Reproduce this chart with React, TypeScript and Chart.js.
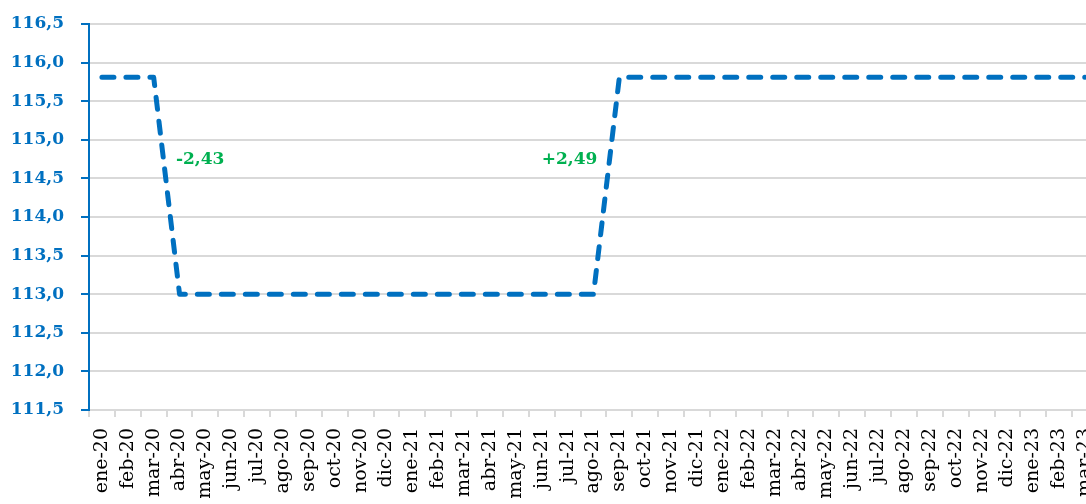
import React, { useEffect, useRef } from "react";
import { Chart, registerables } from "chart.js";

Chart.register(...registerables);

const categories = [
  "ene-20", "feb-20", "mar-20", "abr-20", "may-20", "jun-20", "jul-20", "ago-20", "sep-20", "oct-20", "nov-20", "dic-20",
  "ene-21", "feb-21", "mar-21", "abr-21", "may-21", "jun-21", "jul-21", "ago-21", "sep-21", "oct-21", "nov-21", "dic-21",
  "ene-22", "feb-22", "mar-22", "abr-22", "may-22", "jun-22", "jul-22", "ago-22", "sep-22", "oct-22", "nov-22", "dic-22",
  "ene-23", "feb-23", "mar-23",
];

const values = [
  115.81, 115.81, 115.81, 113.0, 113.0, 113.0, 113.0, 113.0, 113.0, 113.0, 113.0, 113.0,
  113.0, 113.0, 113.0, 113.0, 113.0, 113.0, 113.0, 113.0, 115.81, 115.81, 115.81, 115.81,
  115.81, 115.81, 115.81, 115.81, 115.81, 115.81, 115.81, 115.81, 115.81, 115.81, 115.81, 115.81,
  115.81, 115.81, 115.81,
];

const yMin = 111.5;
const yMax = 116.5;
const yStep = 0.5;

const annotationTexts = ["-2,43", "+2,49"];
const annotationX = [2.86, 19.15];
const annotationY = [114.75, 114.75];
const annotationAlign: CanvasTextAlign[] = ["left", "right"];

const BLUE = "#0070C0";
const GREEN = "#00B050";
const GRID = "#D9D9D9";

const annotationPlugin = {
  id: "changeLabels",
  afterDatasetsDraw(chart: any) {
    const { ctx, scales } = chart;
    ctx.save();
    ctx.font = "bold 17px 'DejaVu Serif'";
    ctx.fillStyle = GREEN;
    ctx.textBaseline = "middle";
    annotationTexts.forEach((t, i) => {
      ctx.textAlign = annotationAlign[i];
      ctx.fillText(t, scales.x.getPixelForValue(annotationX[i]), scales.y.getPixelForValue(annotationY[i]));
    });
    ctx.restore();
  },
};

export default function App() {
  const canvasRef = useRef<HTMLCanvasElement | null>(null);

  useEffect(() => {
    if (!canvasRef.current) return;
    const chart = new Chart(canvasRef.current, {
      type: "line",
      data: {
        labels: categories,
        datasets: [
          {
            data: values,
            borderColor: BLUE,
            borderWidth: 5,
            borderDash: [12, 12],
            borderCapStyle: "round",
            borderJoinStyle: "round",
            pointRadius: 0,
            tension: 0,
            fill: false,
          },
        ],
      },
      options: {
        responsive: false,
        animation: false,
        layout: { padding: { top: 24, right: 2, left: 0, bottom: 0 } },
        plugins: { legend: { display: false }, tooltip: { enabled: false } },
        scales: {
          x: {
            offset: true,
            grid: {
              offset: true,
              drawOnChartArea: false,
              drawTicks: true,
              tickLength: 7,
              color: GRID,
              lineWidth: 2,
            },
            border: { color: GRID, width: 2 },
            ticks: {
              autoSkip: false,
              minRotation: 90,
              maxRotation: 90,
              padding: 11,
              color: "#000000",
              font: { family: "'DejaVu Serif'", size: 19 },
            },
            afterFit: (s: any) => {
              s.height = 94;
              s.paddingLeft = 0;
              s.paddingRight = 0;
            },
          },
          y: {
            min: yMin,
            max: yMax,
            grid: {
              color: GRID,
              lineWidth: 2,
              tickColor: BLUE,
              tickLength: 8,
            },
            border: { color: BLUE, width: 2 },
            ticks: {
              stepSize: yStep,
              padding: 17,
              color: BLUE,
              font: { family: "'DejaVu Serif'", size: 17, weight: "bold" },
              callback: (v: any) => Number(v).toFixed(1).replace(".", ","),
            },
            afterFit: (s: any) => {
              s.width = 89;
              s.paddingTop = 0;
              s.paddingBottom = 0;
            },
          },
        },
      },
      plugins: [annotationPlugin],
    });
    return () => chart.destroy();
  }, []);

  return (
    <div style={{ position: "fixed", left: 0, top: 0, width: 1086, height: 504, overflow: "hidden", background: "#fff" }}>
      <canvas ref={canvasRef} width={1100} height={504} style={{ display: "block" }} />
    </div>
  );
}
